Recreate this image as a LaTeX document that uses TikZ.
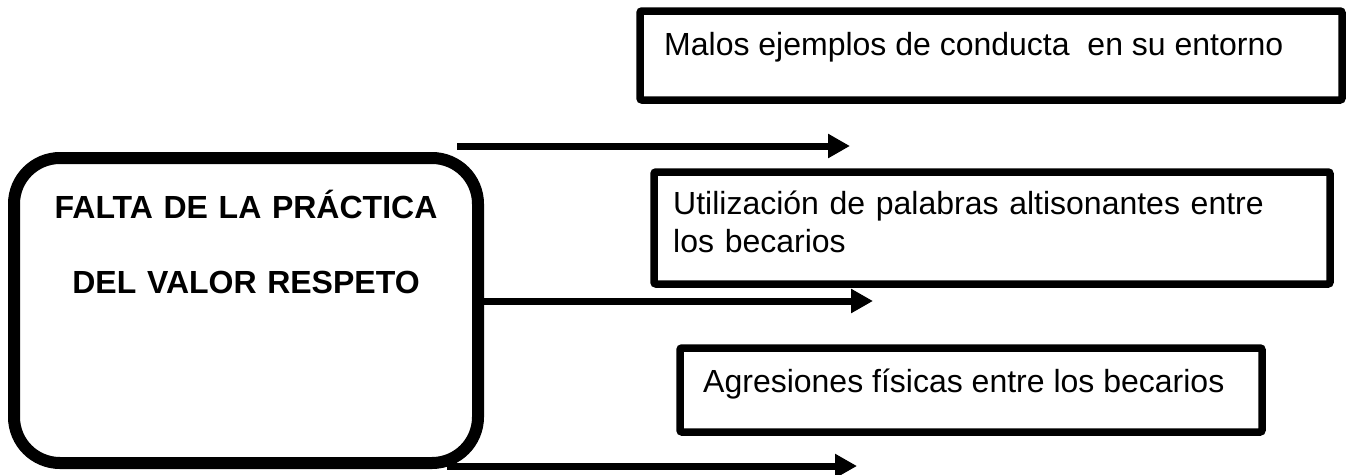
\documentclass[tikz,border=0pt]{standalone}
\usepackage{fontspec}
\setmainfont{Liberation Sans}
\usetikzlibrary{arrows.meta}

\begin{document}
\begin{tikzpicture}[x=1pt,y=1pt]
	\tikzstyle{every node}+=[inner sep=0pt]
	\tikzstyle{caja}=[draw=black, line width=7.5pt, rounded corners=2pt, rectangle]
	\tikzstyle{texto}=[font=\fontsize{32}{38}\selectfont, align=left]
	\tikzstyle{flecha}=[draw=black, line width=7pt, -{Triangle[length=22pt,width=23pt]}]
	\useasboundingbox [fill=white] (0,0) rectangle (1349,-474);
	% problema central
	\node [caja, line width=12pt, rounded corners=46pt, minimum width=464pt, minimum height=305pt] (causa) at (246,-310.5) {};
	\node [texto, font=\fontsize{32}{75}\selectfont\bfseries, text width=440pt, align=center, anchor=base] (titulo) at (246,-218) {FALTA DE LA PRÁCTICA\\DEL VALOR RESPETO};
	% efectos
	\node [caja, minimum width=702pt, minimum height=89pt] (efecto1) at (991,-55.5) {};
	\node [texto, anchor=base west] (txt1) at (664,-55) {Malos ejemplos de conducta\ \ en su entorno};
	\node [caja, minimum width=676pt, minimum height=112pt] (efecto2) at (992,-228) {};
	\node [texto, text width=640pt, anchor=base west] (txt2) at (673,-214) {Utilización de palabras altisonantes entre\\los becarios};
	\node [caja, minimum width=582pt, minimum height=84pt] (efecto3) at (971,-390) {};
	\node [texto, anchor=base west] (txt3) at (703,-392) {Agresiones físicas entre los becarios};
	% flechas
	\coordinate (ini1) at (457,-146);
	\coordinate (fin1) at (850,-146);
	\coordinate (fin2) at (873,-301);
	\coordinate (ini3) at (447,-466);
	\coordinate (fin3) at (857,-466);
	\draw [flecha] (ini1) -- (fin1);
	\draw [flecha] (causa.east |- fin2) -- (fin2);
	\draw [flecha] (ini3) -- (fin3);
\end{tikzpicture}
\end{document}
